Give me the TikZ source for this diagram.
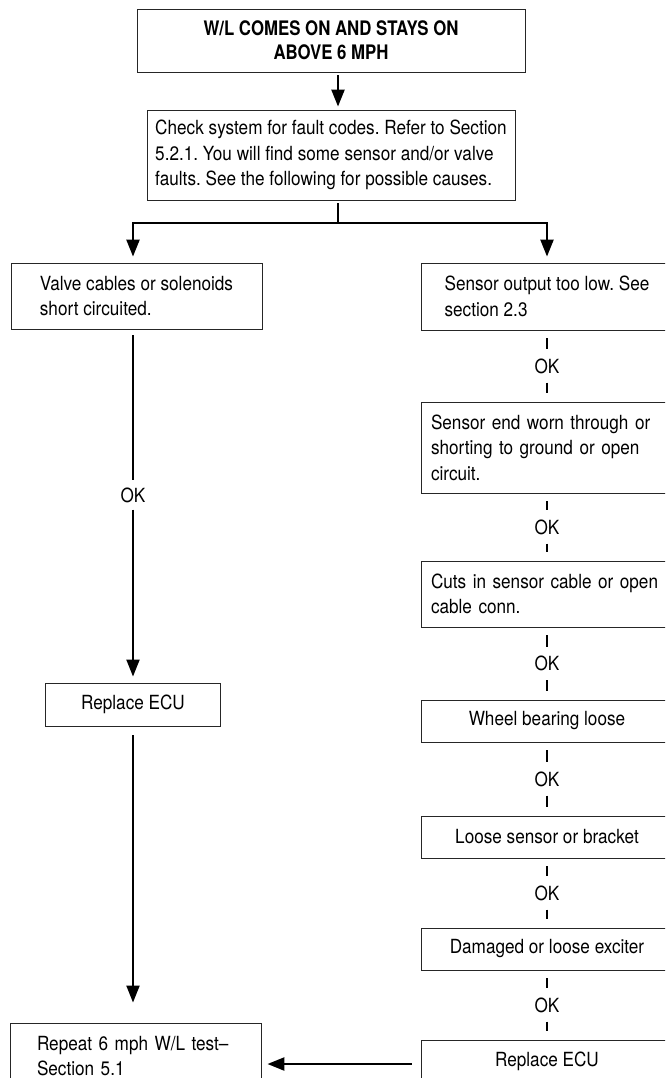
\documentclass[tikz,border=0pt]{standalone}
\usepackage{fontspec}
\setmainfont{TeX Gyre Heros}[FakeStretch=0.88]
\newfontfamily\headfont{TeX Gyre Heros}[FakeStretch=0.84]
\usetikzlibrary{arrows.meta,calc}
\frenchspacing

\begin{document}
\begin{tikzpicture}[x=1pt,y=-1pt,
  box/.style={draw=black!85, line width=0.9pt, rectangle, inner sep=0pt,
    font=\fontsize{19.5}{25.5}\selectfont},
  headbox/.style={box, align=center, minimum width=388pt, minimum height=63pt,
    font=\headfont\bfseries\fontsize{20}{24}\selectfont},
  leftbox/.style={box, align=left, minimum width=251pt},
  rightbox/.style={box, align=left, minimum width=252pt},
  onebox/.style={box, align=center, minimum width=252pt, minimum height=42pt},
  oklabel/.style={inner xsep=0pt, inner ysep=9.5pt, text height=14pt, text depth=0pt,
    font=\fontsize{19.5}{25.5}\selectfont},
  conn/.style={line width=2.4pt, black},
  arr/.style={conn, -{Triangle[width=13pt,length=17pt]}}
]
\useasboundingbox (0,0) rectangle (665,1078);
\clip (0,0) rectangle (665,1078);

% reference coordinates for the connector columns
\coordinate (ax) at (338,0);
\coordinate (sp) at (338,223);
\coordinate (hy) at (0,1064);

% header and first check
\node[headbox] (top) at (331,40.5) {W/L COMES ON AND STAYS ON\\ABOVE 6 MPH};
\node[box, align=left, minimum width=368pt, minimum height=90pt] (chk) at (331,155)
  {Check system for fault codes. Refer to Section\\5.2.1. You will find some sensor and/or valve\\faults. See the following for possible causes.};

% left branch
\node[leftbox, minimum height=66pt] (L1) at (136.5,296) {Valve cables or solenoids\\short circuited.};
\node[oklabel, inner ysep=7.5pt] (okL) at (133,495) {OK};
\node[box, minimum width=175pt, minimum height=43pt] (L2) at (133,704.5) {Replace ECU};
\node[box, align=left, text width=197pt, inner xsep=27pt, minimum height=66pt] (L3) at (135.5,1056)
  {Repeat 6 mph W/L test--\\Section 5.1};

% right branch
\node[rightbox, minimum height=67pt] (R1) at (547,296.5) {Sensor output too low. See\\section 2.3};
\node[box, align=left, text width=232pt, inner xsep=10pt, minimum height=91pt] (R2) at (547,447.5)
  {Sensor end worn through or\\shorting to ground or open\\circuit.};
\node[box, align=left, text width=232pt, inner xsep=10pt, minimum height=66pt] (R3) at (547,594)
  {Cuts in sensor cable or open\\cable conn.};
\node[onebox] (R4) at (547,721) {Wheel bearing loose};
\node[onebox] (R5) at (547,837) {Loose sensor or bracket};
\node[onebox] (R6) at (547,949) {Damaged or loose exciter};
\node[onebox] (R7) at (547,1061) {Replace ECU};

% top arrow and split
\draw[arr, shorten <=3pt, shorten >=3pt] (top.south -| ax) -- (chk.north -| ax);
\draw[conn, shorten <=3pt] (chk.south -| sp) -- (sp);
\draw[arr, shorten >=6pt] (sp) -| (L1.north -| okL);
\draw[arr, shorten >=6pt] (sp) -| (R1.north);

% left column
\draw[conn, line width=2pt, shorten <=6pt] (L1.south -| okL) -- (okL.north);
\draw[arr, line width=2pt, shorten >=6pt] (okL.south) -- (L2.north);
\draw[arr, line width=2pt, shorten <=9pt, shorten >=20pt] (L2.south) -- (L3.north -| L2.south);

% right column: OK links between consecutive checks
\foreach \a/\b/\k in {R1/R2/k1, R2/R3/k2, R3/R4/k3, R4/R5/k4, R5/R6/k5, R6/R7/k6}{
  \node[oklabel] (\k) at ($(\a.south)!0.5!(\b.north)$) {OK};
  \draw[conn, shorten <=8pt] (\a.south) -- (\k.north);
  \draw[conn, shorten >=9pt] (\k.south) -- (\b.north);
}

% back to the repeat test
\draw[arr, shorten <=9pt, shorten >=6pt] (R7.west |- hy) -- (L3.east |- hy);
\end{tikzpicture}
\end{document}
